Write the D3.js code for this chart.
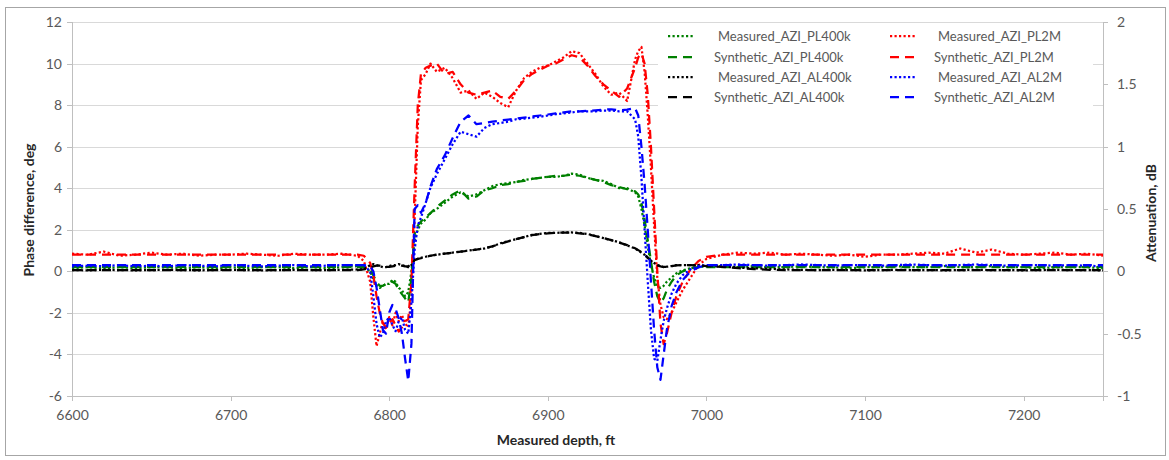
<!DOCTYPE html>
<html><head><meta charset="utf-8">
<script src="https://cdn.jsdelivr.net/npm/d3@7"></script>
<style>
body{margin:0;background:#fff}
text{font-family:Lato,"Liberation Sans",sans-serif}
</style>
</head><body>
<svg id="chart" width="1169" height="460"></svg>
<script>
// ---------------- DATA ----------------
const depth = [
6600,6610,6620,6630,6640,6650,6660,6670,6680,6690,6700,6710,6720,6730,6740,6750,6760,6770,6780,
6784,6788,6790,6792,6794,6796,6798,6800,6802,6804,6806,6808,6810,6812,6814,6816,6818,6820,6823,6826,6830,
6835,6840,6845,6850,6855,6860,6865,6870,6875,6880,6885,6890,6895,6900,6905,6910,6915,6920,6925,6930,6935,6940,6945,6950,6955,
6957,6959,6961,6963,6965,6967,6969,6971,6973,6975,6978,6981,6985,6990,6995,7000,
7010,7020,7030,7040,7050,7060,7070,7080,7090,7100,7110,7120,7130,7140,7150,7160,7170,7180,7190,7200,7210,7220,7230,7240,7250];

// Phase difference series (deg, left axis)
const measuredPL400k = [
0.15,0.2,0.15,0.2,0.15,0.2,0.2,0.15,0.2,0.15,0.2,0.15,0.2,0.2,0.15,0.2,0.15,0.2,0.25,
0.2,0.0,-0.4,-0.7,-0.8,-0.7,-0.6,-0.6,-0.4,-0.5,-0.8,-0.9,-1.2,-1.0,0.0,1.5,2.0,2.3,2.5,2.8,3.0,
3.3,3.6,3.8,3.6,3.7,3.9,4.1,4.2,4.25,4.3,4.4,4.45,4.5,4.55,4.55,4.6,4.7,4.65,4.5,4.4,4.35,4.2,4.0,4.0,3.8,
3.6,3.0,2.2,1.2,0.3,-0.3,-0.7,-0.8,-0.7,-0.5,-0.3,-0.1,0.05,0.15,0.2,0.25,
0.25,0.2,0.25,0.2,0.2,0.25,0.2,0.2,0.15,0.2,0.2,0.25,0.2,0.2,0.25,0.2,0.2,0.25,0.2,0.2,0.15,0.2,0.2,0.2,0.15];

const syntheticPL400k = [
0.2,0.2,0.2,0.2,0.2,0.2,0.2,0.2,0.2,0.2,0.2,0.2,0.2,0.2,0.2,0.2,0.2,0.2,0.2,
0.2,0.1,-0.2,-0.5,-0.7,-0.7,-0.6,-0.5,-0.5,-0.6,-0.9,-1.1,-1.3,-1.5,-0.3,1.8,2.2,2.4,2.6,2.8,3.1,
3.4,3.7,3.9,3.5,3.6,3.9,4.0,4.15,4.2,4.3,4.35,4.45,4.5,4.55,4.6,4.6,4.65,4.6,4.5,4.4,4.3,4.15,4.05,3.95,3.85,
3.7,3.3,2.5,1.5,0.5,-0.5,-1.2,-1.5,-1.3,-0.9,-0.5,-0.2,0.0,0.15,0.2,0.2,
0.2,0.2,0.2,0.2,0.2,0.2,0.2,0.2,0.2,0.2,0.2,0.2,0.2,0.2,0.2,0.2,0.2,0.2,0.2,0.2,0.2,0.2,0.2,0.2,0.2];

const measuredPL2M = [
0.85,0.8,0.95,0.75,0.8,0.9,0.8,0.85,0.75,0.8,0.8,0.85,0.8,0.75,0.85,0.8,0.8,0.85,0.75,
0.5,-0.5,-2.2,-3.6,-3.0,-2.4,-2.8,-2.2,-2.6,-2.0,-2.4,-2.1,-2.5,-2.7,-1.2,2.5,7.0,9.2,9.5,10.0,9.6,
9.8,9.3,8.6,8.7,8.3,8.6,8.4,8.1,7.9,8.7,9.3,9.6,9.8,9.9,10.1,10.3,10.6,10.5,10.0,9.5,8.9,8.5,8.6,8.2,10.2,
10.6,10.8,9.6,7.5,5.0,2.2,-0.3,-1.6,-2.2,-2.3,-2.0,-1.5,-0.9,-0.3,0.3,0.6,
0.8,0.9,0.85,0.9,0.8,0.85,0.8,0.75,0.8,0.7,0.8,0.8,0.85,0.9,0.85,1.1,0.9,1.05,0.85,0.8,0.85,0.9,0.8,0.85,0.75];

const syntheticPL2M = [
0.8,0.8,0.8,0.8,0.8,0.8,0.8,0.8,0.8,0.8,0.8,0.8,0.8,0.8,0.8,0.8,0.8,0.8,0.8,
0.75,0.4,-0.2,-1.2,-2.0,-2.5,-2.7,-2.5,-2.3,-2.6,-2.9,-2.7,-2.4,-2.3,-0.5,4.0,8.0,9.5,9.8,9.9,10.0,
9.5,9.6,9.0,8.6,8.5,8.6,8.7,8.4,8.3,8.7,9.2,9.5,9.7,9.9,10.0,10.2,10.4,10.3,9.9,9.4,9.0,8.7,8.4,8.8,9.8,
10.3,10.5,10.0,8.5,6.0,3.0,0.0,-2.5,-3.5,-3.0,-2.0,-1.2,-0.5,0.1,0.5,0.7,
0.8,0.8,0.8,0.8,0.8,0.8,0.8,0.8,0.8,0.8,0.8,0.8,0.8,0.8,0.8,0.8,0.8,0.8,0.8,0.8,0.8,0.8,0.8,0.8,0.8];

// Attenuation series (dB, right axis)
const measuredAL400k = [
0.01,0.008,0.012,0.01,0.008,0.01,0.012,0.01,0.008,0.01,0.012,0.01,0.008,0.01,0.012,0.01,0.01,0.012,0.015,
0.017,0.05,0.058,0.05,0.042,0.033,0.033,0.042,0.05,0.05,0.058,0.05,0.042,0.033,0.05,0.092,0.1,0.108,0.117,0.125,0.133,
0.142,0.15,0.158,0.167,0.175,0.183,0.2,0.225,0.242,0.258,0.275,0.292,0.3,0.308,0.308,0.312,0.312,0.308,0.3,0.283,0.267,0.25,0.233,0.208,0.183,
0.167,0.15,0.133,0.108,0.083,0.067,0.05,0.042,0.033,0.037,0.042,0.05,0.05,0.05,0.05,0.042,
0.04,0.03,0.025,0.02,0.015,0.012,0.01,0.012,0.01,0.008,0.01,0.012,0.01,0.01,0.008,0.01,0.012,0.01,0.01,0.008,0.01,0.012,0.01,0.01,0.008];

const syntheticAL400k = [
0.01,0.01,0.01,0.01,0.01,0.01,0.01,0.01,0.01,0.01,0.01,0.01,0.01,0.01,0.01,0.01,0.01,0.01,0.01,
0.015,0.03,0.04,0.045,0.045,0.04,0.035,0.035,0.04,0.045,0.05,0.045,0.04,0.04,0.06,0.09,0.1,0.105,0.115,0.125,0.135,
0.142,0.15,0.158,0.165,0.175,0.185,0.2,0.22,0.24,0.258,0.275,0.29,0.3,0.305,0.31,0.31,0.31,0.305,0.297,0.283,0.267,0.25,0.23,0.21,0.185,
0.17,0.155,0.135,0.11,0.085,0.065,0.05,0.04,0.035,0.037,0.042,0.048,0.05,0.05,0.048,0.042,
0.035,0.025,0.018,0.012,0.01,0.01,0.01,0.01,0.01,0.01,0.01,0.01,0.01,0.01,0.01,0.01,0.01,0.01,0.01,0.01,0.01,0.01,0.01,0.01,0.01];

const measuredAL2M = [
0.04,0.045,0.04,0.05,0.04,0.045,0.04,0.05,0.045,0.04,0.05,0.045,0.04,0.045,0.05,0.04,0.045,0.05,0.05,
0.05,0.0,-0.2,-0.42,-0.53,-0.5,-0.4,-0.37,-0.43,-0.48,-0.4,-0.37,-0.47,-0.5,-0.25,0.17,0.37,0.43,0.55,0.67,0.78,
0.9,1.02,1.12,1.1,1.08,1.15,1.18,1.19,1.2,1.22,1.225,1.233,1.24,1.25,1.26,1.267,1.275,1.283,1.283,1.283,1.29,1.29,1.283,1.283,1.22,
1.08,0.75,0.33,-0.08,-0.47,-0.7,-0.72,-0.55,-0.4,-0.3,-0.18,-0.1,-0.03,0.017,0.042,0.05,
0.05,0.055,0.05,0.045,0.05,0.055,0.05,0.045,0.05,0.05,0.045,0.05,0.055,0.05,0.045,0.05,0.055,0.05,0.045,0.05,0.05,0.045,0.05,0.045,0.04];

const syntheticAL2M = [
0.05,0.05,0.05,0.05,0.05,0.05,0.05,0.05,0.05,0.05,0.05,0.05,0.05,0.05,0.05,0.05,0.05,0.05,0.05,
0.05,0.042,0.0,-0.13,-0.3,-0.47,-0.5,-0.33,-0.27,-0.3,-0.38,-0.5,-0.7,-0.88,-0.58,0.5,0.53,0.47,0.55,0.68,0.82,
0.93,1.07,1.2,1.25,1.18,1.19,1.2,1.21,1.217,1.225,1.233,1.242,1.25,1.258,1.267,1.275,1.283,1.283,1.287,1.292,1.297,1.3,1.292,1.297,1.31,
1.25,1.0,0.7,0.33,-0.08,-0.47,-0.77,-0.87,-0.67,-0.47,-0.28,-0.17,-0.07,0.0,0.033,0.05,
0.05,0.05,0.05,0.05,0.05,0.05,0.05,0.05,0.05,0.05,0.05,0.05,0.05,0.05,0.05,0.05,0.05,0.05,0.05,0.05,0.05,0.05,0.05,0.05,0.05];

const xTickValues = [6600,6700,6800,6900,7000,7100,7200];
const leftTickValues = [-6,-4,-2,0,2,4,6,8,10,12];
const rightTickValues = [-1,-0.5,0,0.5,1,1.5,2];

const seriesNames = ["Measured_AZI_PL400k","Measured_AZI_PL2M","Synthetic_AZI_PL400k","Synthetic_AZI_PL2M",
                     "Measured_AZI_AL400k","Measured_AZI_AL2M","Synthetic_AZI_AL400k","Synthetic_AZI_AL2M"];
const seriesValues = [measuredPL400k,measuredPL2M,syntheticPL400k,syntheticPL2M,
                      measuredAL400k,measuredAL2M,syntheticAL400k,syntheticAL2M];
const seriesColors = ["#008000","#ff0000","#008000","#ff0000","#000000","#0000ff","#000000","#0000ff"];
const seriesAxis = ["L","L","L","L","R","R","R","R"];
const seriesKind = ["m","m","s","s","m","m","s","s"];

// ---------------- CHART ----------------
const svg = d3.select("#chart");
const P = {l:72, r:1103, t:22, b:396};
const x = d3.scaleLinear().domain([6600,7250]).range([P.l,P.r]);
const yL = d3.scaleLinear().domain([-6,12]).range([P.b,P.t]);
const yR = d3.scaleLinear().domain([-1,2]).range([P.b,P.t]);

svg.append("rect").attr("x",0).attr("y",0).attr("width",1169).attr("height",460).attr("fill","#fff");
svg.append("rect").attr("x",5.5).attr("y",7.5).attr("width",1160).attr("height",448)
  .attr("fill","none").attr("stroke","#a6a6a6").attr("stroke-width",1);

// gridlines
svg.append("g").attr("transform",`translate(${P.l},0)`)
  .call(d3.axisLeft(yL).tickValues(leftTickValues).tickSize(-(P.r-P.l)).tickFormat(""))
  .call(g=>g.select(".domain").remove())
  .call(g=>g.selectAll("line").attr("stroke","#d9d9d9").attr("shape-rendering","crispEdges"));

// left axis
svg.append("g").attr("transform",`translate(${P.l},0)`)
  .call(d3.axisLeft(yL).tickValues(leftTickValues).tickSize(5).tickPadding(5).tickFormat(d=>String(d)))
  .call(g=>g.select(".domain").attr("stroke","#bfbfbf").attr("shape-rendering","crispEdges"))
  .call(g=>g.selectAll("line").attr("stroke","#bfbfbf").attr("shape-rendering","crispEdges"))
  .call(g=>g.selectAll("text").attr("fill","#595959").style("font-size","14px").style("font-family","Lato"));

// right axis
svg.append("g").attr("transform",`translate(${P.r},0)`)
  .call(d3.axisRight(yR).tickValues(rightTickValues).tickSize(5).tickPadding(9).tickFormat(d=>String(d)))
  .call(g=>g.select(".domain").attr("stroke","#bfbfbf").attr("shape-rendering","crispEdges"))
  .call(g=>g.selectAll("line").attr("stroke","#bfbfbf").attr("shape-rendering","crispEdges"))
  .call(g=>g.selectAll("text").attr("fill","#595959").style("font-size","14px").style("font-family","Lato"));

// bottom axis
svg.append("g").attr("transform",`translate(0,${P.b})`)
  .call(d3.axisBottom(x).tickValues(xTickValues).tickSize(5).tickPadding(9).tickFormat(d=>String(d)))
  .call(g=>g.select(".domain").attr("stroke","#bfbfbf").attr("shape-rendering","crispEdges"))
  .call(g=>g.selectAll("line").attr("stroke","#bfbfbf").attr("shape-rendering","crispEdges"))
  .call(g=>g.selectAll("text").attr("fill","#595959").style("font-size","14px").style("font-family","Lato"));

// axis titles
svg.append("text").attr("transform","translate(34,210) rotate(-90)").attr("text-anchor","middle")
  .style("font-weight","bold").style("font-size","14px").attr("fill","#262626").text("Phase difference, deg");
svg.append("text").attr("transform","translate(1156,213) rotate(-90)").attr("text-anchor","middle")
  .style("font-weight","bold").style("font-size","14px").attr("fill","#262626").text("Attenuation, dB");
svg.append("text").attr("x",556).attr("y",445).attr("text-anchor","middle")
  .style("font-weight","bold").style("font-size","14px").attr("fill","#262626").text("Measured depth, ft");

// series
const dashFor = k => k==="m" ? "2.2,2.3" : "9,6";
const plot = svg.append("g");
seriesValues.forEach((vals,i)=>{
  const ys = seriesAxis[i]==="L" ? yL : yR;
  const line = d3.line().x((d,j)=>x(depth[j])).y(d=>ys(d));
  plot.append("path").datum(vals)
    .attr("d",line)
    .attr("fill","none")
    .attr("stroke",seriesColors[i])
    .attr("stroke-width",2.25)
    .attr("stroke-dasharray",dashFor(seriesKind[i]))
    .attr("stroke-linejoin","round");
});

// legend
const leg = svg.append("g");
leg.append("rect").attr("x",658).attr("y",23).attr("width",435).attr("height",88).attr("fill","#fff");
const legRows = [36,57,77,97];
const legendOrder = [0,1,2,3,4,5,6,7]; // row-wise, two columns
legendOrder.forEach((si,k)=>{
  const row = Math.floor(k/2), col = k%2;
  const yy = legRows[row];
  const x0 = col===0 ? 668 : 890;
  const tx = (col===0 ? 714 : 934) + (seriesKind[si]==="m" ? 4 : 0);
  leg.append("line").attr("x1",x0).attr("x2",x0+27).attr("y1",yy).attr("y2",yy)
    .attr("stroke",seriesColors[si]).attr("stroke-width",2.25)
    .attr("stroke-dasharray",dashFor(seriesKind[si]));
  leg.append("text").attr("x",tx).attr("y",yy).attr("dy","0.35em")
    .style("font-size","13px").attr("fill","#595959").text(seriesNames[si]);
});
</script>
</body></html>
